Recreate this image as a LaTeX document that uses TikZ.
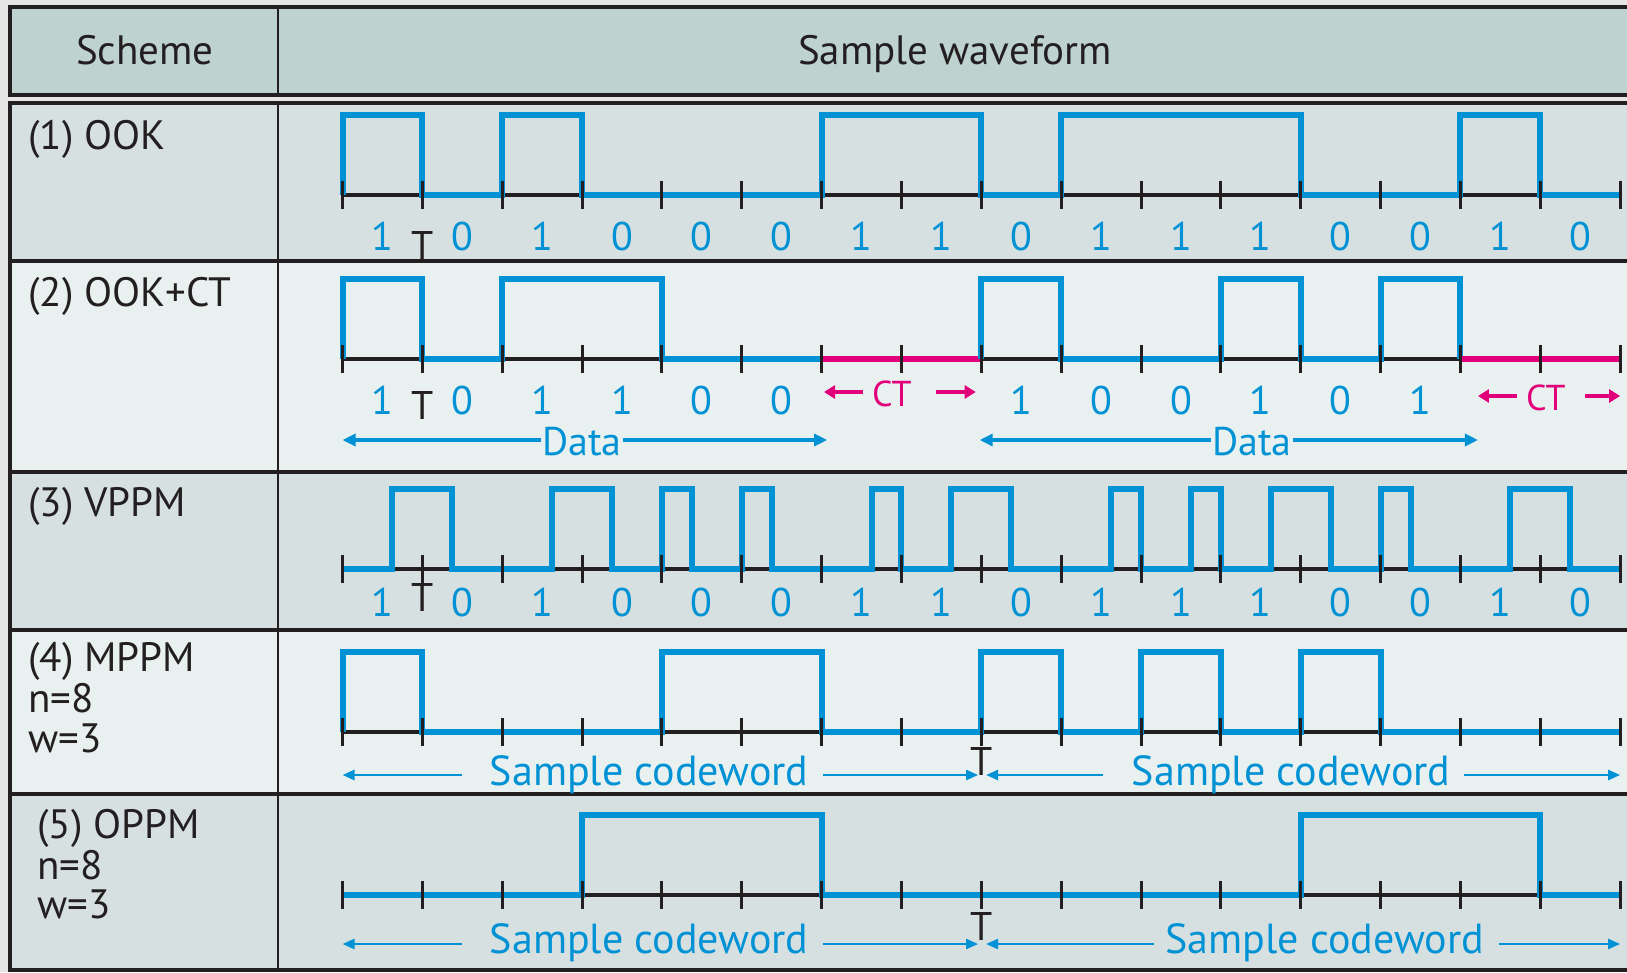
\documentclass[tikz,border=0pt]{standalone}
\usepackage{fontspec}
\setmainfont{PT Sans}
\usetikzlibrary{arrows.meta}
\definecolor{wblue}{RGB}{0,146,212}
\definecolor{ctpink}{RGB}{226,0,122}
\definecolor{hdr}{RGB}{190,211,207}
\definecolor{rowdark}{RGB}{214,224,225}
\definecolor{rowlight}{RGB}{233,240,240}
\definecolor{outerbg}{RGB}{229,229,229}
\definecolor{ink}{RGB}{35,31,32}
\begin{document}
\begin{tikzpicture}[x=1pt,y=-1pt,
  frame/.style={draw=ink,line width=3.5pt},
  divider/.style={draw=ink,line width=2.5pt},
  baseln/.style={draw=ink,line width=4pt},
  wave/.style={draw=wblue,line width=6pt,line join=miter,line cap=butt},
  ctwave/.style={draw=ctpink,line width=6pt,line cap=butt},
  tickmark/.style={draw=ink,line width=3pt},
  hdrtext/.style={inner sep=0pt,text=ink,font=\fontsize{41}{46}\selectfont},
  lbl/.style={inner sep=0pt,anchor=base west,text=ink,font=\fontsize{41}{44}\selectfont},
  digit/.style={inner sep=0pt,anchor=base,text=wblue,font=\fontsize{40}{44}\selectfont},
  tlbl/.style={inner sep=0pt,anchor=base,text=ink,font=\fontsize{40}{44}\selectfont},
  bluetxt/.style={inner sep=1pt,anchor=base,text=wblue,font=\fontsize{42}{46}\selectfont},
  cttxt/.style={inner sep=0pt,anchor=base,text=ctpink,font=\fontsize{36}{40}\selectfont},
  dataarrow/.style={draw=wblue,line width=3.5pt,-{Triangle[length=13pt,width=12pt]}},
  cwarrow/.style={draw=wblue,line width=2.5pt,-{Triangle[length=12pt,width=10pt]}},
  ctarrow/.style={draw=ctpink,line width=4.5pt,-{Triangle[length=11pt,width=13pt]}}
]
\clip (0,0) rectangle (1627,972);
\fill[outerbg] (0,0) rectangle (1627,972);
% header
\filldraw[fill=hdr,frame] (10,7) rectangle (1660,95);
\draw[divider] (278,7) -- (278,95);
\node[hdrtext,anchor=base] (hs) at (145,64) {Scheme};
\node[hdrtext,anchor=base] (hw) at (955,64) {Sample waveform};
% rows background
\fill[rowdark] (10,103) rectangle (1660,261);
\fill[rowlight] (10,261) rectangle (1660,472);
\fill[rowdark] (10,472) rectangle (1660,630);
\fill[rowlight] (10,630) rectangle (1660,794);
\fill[rowdark] (10,794) rectangle (1660,970);
\draw[frame] (10,103) rectangle (1660,970);
\draw[frame] (10,261) -- (1660,261);
\draw[frame] (10,472) -- (1660,472);
\draw[frame] (10,630) -- (1660,630);
\draw[frame] (10,794) -- (1660,794);
\draw[divider] (278,103) -- (278,970);
% row labels
\node[lbl] (l1) at (28,149) {(1) OOK};
\node[lbl] (l2) at (28,306) {(2) OOK+CT};
\node[lbl] (l3) at (28,516) {(3) VPPM};
\node[lbl] (l4a) at (28,671) {(4) MPPM};
\node[lbl] (l4b) at (28,712) {n=8};
\node[lbl] (l4c) at (28,752) {w=3};
\node[lbl] (l5a) at (37,838) {(5) OPPM};
\node[lbl] (l5b) at (37,879) {n=8};
\node[lbl] (l5c) at (37,918) {w=3};

% ---------- Row 1: OOK ----------
\begin{scope}[shift={(342.5,195)},x=79.85pt]
\draw[baseln] (0,0) -- (16,0);
\draw[wave] (0,0) \foreach \a/\b in {0/1,2/3,6/8,9/12,14/15}{ -- (\a,0) -- (\a,-80) -- (\b,-80) -- (\b,0)} -- (16,0);
\foreach \k in {0,...,16} \draw[tickmark] (\k,-14) -- (\k,14);
\foreach \b [count=\i from 0] in {1,0,1,0,0,0,1,1,0,1,1,1,0,0,1,0}
  \node[digit] (ra\i) at (\i+0.5,55) {\b};
\node[tlbl] (ta) at (1,64) {T};
\end{scope}

% ---------- Row 2: OOK+CT ----------
\begin{scope}[shift={(342.5,359)},x=79.85pt]
\draw[baseln] (0,0) -- (16,0);
\draw[wave] (0,0) \foreach \a/\b in {0/1,2/4}{ -- (\a,0) -- (\a,-80) -- (\b,-80) -- (\b,0)} -- (6,0);
\draw[ctwave] (6,0) -- (8,0);
\draw[wave] (8,0) \foreach \a/\b in {8/9,11/12,13/14}{ -- (\a,0) -- (\a,-80) -- (\b,-80) -- (\b,0)} -- (14,0);
\draw[ctwave] (14,0) -- (16,0);
\foreach \k in {0,...,16} \draw[tickmark] (\k,-14) -- (\k,14);
\foreach \b [count=\i from 0] in {1,0,1,1,0,0}
  \node[digit] (rb\i) at (\i+0.5,55) {\b};
\foreach \b [count=\i from 8] in {1,0,0,1,0,1}
  \node[digit] (rb\i) at (\i+0.5,55) {\b};
\node[tlbl] (tb) at (1,60) {T};
% CT labels
\node[cttxt] (ct1) at (6.88,47) {CT};
\coordinate (ct1l) at (6.03,33);
\coordinate (ct1r) at (7.93,33);
\draw[ctarrow] ([xshift=-9pt]ct1.base west) ++(0,-14) coordinate (ct1lt) -- (ct1l);
\draw[ctarrow] ([xshift=24pt]ct1.base east) ++(0,-14) coordinate (ct1rt) -- (ct1r);
\node[cttxt] (ct2) at (15.07,51) {CT};
\coordinate (ct2l) at (14.22,37);
\coordinate (ct2r) at (16.0,37);
\draw[ctarrow] ([xshift=-9pt]ct2.base west) ++(0,-14) coordinate (ct2lt) -- (ct2l);
\draw[ctarrow] ([xshift=19pt]ct2.base east) ++(0,-14) coordinate (ct2rt) -- (ct2r);
% Data
\node[bluetxt,font=\fontsize{40}{44}\selectfont] (d1) at (3.0,96) {Data};
\coordinate (d1l) at (0,81);
\coordinate (d1r) at (6.07,81);
\draw[dataarrow] (d1.west |- d1l) -- (d1l);
\draw[dataarrow] (d1.east |- d1r) -- (d1r);
\node[bluetxt,font=\fontsize{40}{44}\selectfont] (d2) at (11.39,96) {Data};
\coordinate (d2l) at (7.98,81);
\coordinate (d2r) at (14.22,81);
\draw[dataarrow] (d2.west |- d2l) -- (d2l);
\draw[dataarrow] (d2.east |- d2r) -- (d2r);
\end{scope}

% ---------- Row 3: VPPM ----------
\begin{scope}[shift={(342.5,568.5)},x=79.85pt]
\draw[baseln] (0,0) -- (16,0);
\draw[wave] (0,0) \foreach \a/\b in {0.625/1.375,2.625/3.375,4/4.375,5/5.375,6.625/7,7.625/8.375,9.625/10,10.625/11,11.625/12.375,13/13.375,14.625/15.375}{ -- (\a,0) -- (\a,-80) -- (\b,-80) -- (\b,0)} -- (16,0);
\foreach \k in {0,...,16} \draw[tickmark] (\k,-14) -- (\k,14);
\foreach \b [count=\i from 0] in {1,0,1,0,0,0,1,1,0,1,1,1,0,0,1,0}
  \node[digit] (rc\i) at (\i+0.5,48) {\b};
\node[tlbl] (tc) at (1,43) {T};
\end{scope}

% ---------- Row 4: MPPM ----------
\begin{scope}[shift={(342.5,732)},x=79.85pt]
\draw[baseln] (0,0) -- (16,0);
\draw[wave] (0,0) \foreach \a/\b in {0/1,4/6,8/9,10/11,12/13}{ -- (\a,0) -- (\a,-80) -- (\b,-80) -- (\b,0)} -- (16,0);
\foreach \k in {0,...,16} \draw[tickmark] (\k,-14) -- (\k,14);
\node[tlbl] (td) at (8,43) {T};
\node[bluetxt] (cw1) at (3.84,53) {Sample codeword};
\coordinate (cw1a) at (1.5,43);
\coordinate (cw1b) at (0,43);
\coordinate (cw1c) at (6.02,43);
\coordinate (cw1d) at (7.96,43);
\draw[cwarrow] (cw1a) -- (cw1b);
\draw[cwarrow] (cw1c) -- (cw1d);
\node[bluetxt] (cw2) at (11.88,53) {Sample codeword};
\coordinate (cw2a) at (9.52,43);
\coordinate (cw2b) at (8.06,43);
\coordinate (cw2c) at (14.05,43);
\coordinate (cw2d) at (16.0,43);
\draw[cwarrow] (cw2a) -- (cw2b);
\draw[cwarrow] (cw2c) -- (cw2d);
\end{scope}

% ---------- Row 5: OPPM ----------
\begin{scope}[shift={(342.5,895)},x=79.85pt]
\draw[baseln] (0,0) -- (16,0);
\draw[wave] (0,0) \foreach \a/\b in {3/6,12/15}{ -- (\a,0) -- (\a,-80) -- (\b,-80) -- (\b,0)} -- (16,0);
\foreach \k in {0,...,16} \draw[tickmark] (\k,-14) -- (\k,14);
\node[tlbl] (te) at (8,45) {T};
\node[bluetxt] (cw3) at (3.84,58) {Sample codeword};
\coordinate (cw3a) at (1.5,49);
\coordinate (cw3b) at (0,49);
\coordinate (cw3c) at (6.02,49);
\coordinate (cw3d) at (7.96,49);
\draw[cwarrow] (cw3a) -- (cw3b);
\draw[cwarrow] (cw3c) -- (cw3d);
\node[bluetxt] (cw4) at (12.3,58) {Sample codeword};
\coordinate (cw4a) at (10.16,49);
\coordinate (cw4b) at (8.06,49);
\coordinate (cw4c) at (14.48,49);
\coordinate (cw4d) at (16.0,49);
\draw[cwarrow] (cw4a) -- (cw4b);
\draw[cwarrow] (cw4c) -- (cw4d);
\end{scope}
\end{tikzpicture}
\end{document}
